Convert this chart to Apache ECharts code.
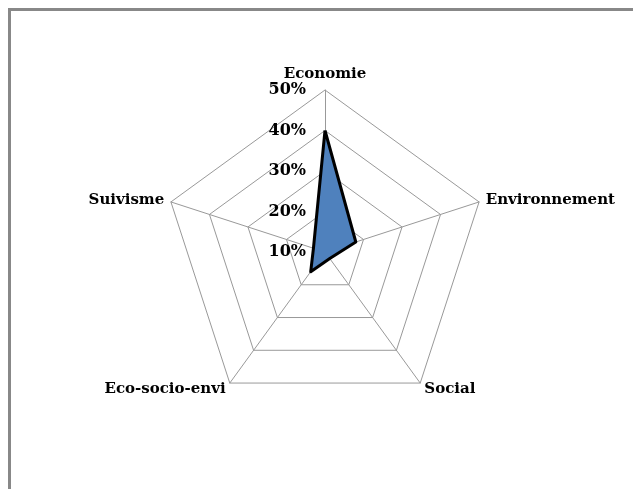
<!DOCTYPE html>
<html>
<head>
<meta charset="utf-8">
<script src="https://cdn.jsdelivr.net/npm/echarts@6/dist/echarts.min.js"></script>
<style>
  html, body { margin: 0; padding: 0; background: #fff; }
  #main { width: 633px; height: 489px; }
</style>
</head>
<body>
<div id="main"></div>
<script>
// axes du radar, dans l'ordre ECharts (sens anti-horaire depuis le haut)
var indicators = ['Economie', 'Suivisme', 'Eco-socio-envi', 'Social', 'Environnement'];
// valeurs en %
var values = [40, 13, 16, 12, 18];
var axisMin = 10;
var axisMax = 50;

var chart = echarts.init(document.getElementById('main'));

var option = {
    backgroundColor: '#fff',
    animation: false,
    graphic: [{
        type: 'rect',
        shape: { x: 9.5, y: 9.5, width: 700, height: 600 },
        style: { fill: 'none', stroke: '#888', lineWidth: 3 }
    }],
    radar: {
        center: [325, 252],
        radius: 162,
        startAngle: 90,
        shape: 'polygon',
        splitNumber: 4,
        nameGap: 7,
        axisName: {
            color: '#000',
            fontFamily: 'DejaVu Serif',
            fontWeight: 'bold',
            fontSize: 15
        },
        axisLine: { lineStyle: { color: '#999', width: 1 } },
        splitLine: { lineStyle: { color: '#999', width: 1 } },
        splitArea: { show: false },
        axisTick: { show: false },
        axisLabel: { show: false },
        indicator: indicators.map(function (name, i) {
            var ind = { name: name, min: axisMin, max: axisMax };
            if (i === 0) {
                // graduations seulement sur l'axe Economie
                ind.axisLabel = {
                    show: true,
                    color: '#000',
                    fontFamily: 'DejaVu Serif',
                    fontWeight: 'bold',
                    fontSize: 16,
                    margin: 19,
                    formatter: '{value}%'
                };
            }
            return ind;
        })
    },
    series: [
        {
            // remplissage
            type: 'radar',
            symbol: 'none',
            lineStyle: { width: 0, opacity: 0 },
            areaStyle: { color: '#4F81BD', opacity: 1 },
            data: [{ value: values, name: 'Score' }]
        },
        {
            // contour noir par-dessus
            type: 'radar',
            symbol: 'none',
            z: 3,
            lineStyle: { color: '#000', width: 3 },
            data: [{ value: values, name: 'Score' }]
        }
    ]
};

chart.setOption(option);
</script>
</body>
</html>
